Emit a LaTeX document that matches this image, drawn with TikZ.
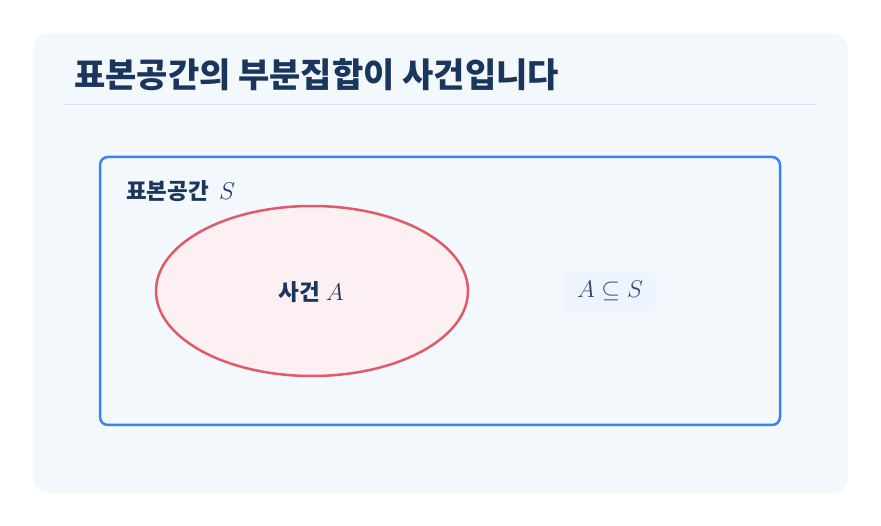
\RequirePackage{fix-cm}
\documentclass[tikz,border=0pt]{standalone}
\usepackage{fontspec}
\newfontfamily\kr{Noto Sans CJK KR}
\definecolor{navy}{HTML}{1B365D}
\definecolor{panel}{HTML}{F3F8FD}
\definecolor{sep}{HTML}{D9E2EC}
\definecolor{sblue}{HTML}{3B82F6}
\definecolor{efill}{HTML}{FCF0F3}
\definecolor{ered}{HTML}{E05A6A}
\definecolor{mathc}{HTML}{2C4A6E}
\definecolor{tagbg}{HTML}{EEF4FD}
\newcommand{\mth}[1]{{\fontsize{24.2}{28}\selectfont$#1$}}
\tikzset{
  title/.style={anchor=base west, font=\kr\bfseries\fontsize{34}{40}\selectfont, text=navy, inner sep=0pt},
  lbl/.style={font=\kr\bfseries\fontsize{22.5}{26}\selectfont, text=navy, inner sep=0pt},
}
\begin{document}
\begin{tikzpicture}[x=1pt,y=-1pt]
\useasboundingbox (0,0) rectangle (881,526);
\fill[white] (0,0) rectangle (881,526);
\fill[panel, rounded corners=16pt] (33,33) rectangle (848,493);
\node[title] (t) at (74,88) {표본공간의 부분집합이 사건입니다};
\draw[sep, line width=1pt] (64,104.5) -- (816,104.5);
\draw[sblue, line width=2.5pt, fill=panel, rounded corners=8pt] (100,157) rectangle (780,425);
\node[lbl, anchor=base west] (s) at (126,200) {표본공간\hspace{10pt}\mth{S}};
\draw[ered, line width=2.5pt, fill=efill] (312,291) ellipse [x radius=156, y radius=85];
\node[lbl, anchor=base] (a) at (311,301) {사건\hspace{6pt}\mth{A}};
\fill[tagbg, rounded corners=3pt] (564,272) rectangle (656,312);
\node[anchor=base, text=mathc, inner sep=0pt] (sub) at (610,298) {\mth{A\subseteq S}};
\end{tikzpicture}
\end{document}
